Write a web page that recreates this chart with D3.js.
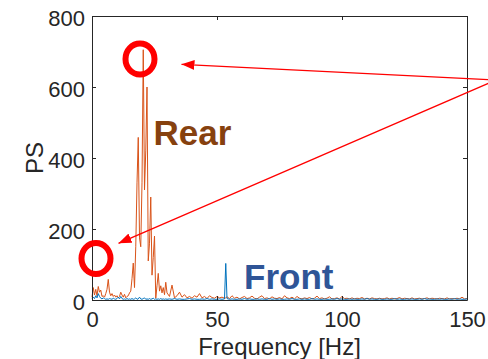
<!DOCTYPE html>
<html>
<head>
<meta charset="utf-8">
<script src="https://cdn.jsdelivr.net/npm/d3@7"></script>
<style>
  html, body { margin: 0; padding: 0; background: #fff; }
  svg { display: block; font-family: 'Liberation Sans', Arial, Helvetica, sans-serif; }
</style>
</head>
<body>
<div id="chart"></div>
<script>
// frequency axis [Hz]
const hz = [
  0, 0.5, 1, 1.5, 2, 2.5, 3, 3.5, 4, 4.5, 5, 5.5, 6, 6.5, 7, 7.5, 8, 8.5, 9, 9.5,
  10, 10.5, 11, 11.5, 12, 12.5, 13, 13.5, 14, 14.5, 15, 15.5, 16, 16.5, 17, 17.5, 18, 18.5, 19, 19.5,
  20, 20.5, 21, 21.5, 22, 22.5, 23, 23.5, 24, 24.5, 25, 25.5, 26, 26.5, 27, 27.5, 28, 28.5, 29, 29.5, 30,
  31, 32, 33, 34, 35, 36, 37, 38, 39, 40, 41, 42, 43, 44, 45, 46, 47, 48, 49, 50, 51, 52, 53, 53.5,
  54, 55, 56, 57, 58, 59, 60, 61, 62, 63, 64, 65, 66, 67, 68, 69, 70, 71, 72, 73,
  74, 75, 76, 77, 78, 79, 80, 81, 82, 83, 84, 85, 86, 87, 88, 89, 90, 91, 92, 93,
  94, 95, 96, 97, 98, 99, 100, 101, 102, 103, 104, 105, 106, 107, 108, 109, 110, 111, 112, 113,
  114, 115, 116, 117, 118, 119, 120, 121, 122, 123, 124, 125, 126, 127, 128, 129, 130, 131, 132, 133,
  134, 135, 136, 137, 138, 139, 140, 141, 142, 143, 144, 145, 146, 147, 148, 149, 150
];

// power spectrum, rear sensor
const rearPS = [
  8, 35, 14, 30, 12, 38, 22, 28, 10, 12, 8, 18, 30, 58, 22, 12, 18, 10, 14, 8,
  12, 6, 10, 22, 14, 8, 16, 6, 10, 12, 20, 25, 60, 104, 35, 150, 330, 458, 175, 150,
  330, 705, 310, 420, 600, 110, 160, 290, 70, 120, 180, 5, 40, 75, 25, 40, 20, 35, 15, 50, 20,
  10, 42, 6, 12, 22, 8, 15, 6, 10, 5, 12, 8, 18, 6, 10, 4, 12, 7, 5, 10, 6, 8, 5, 6,
  9, 4, 12, 5, 8, 3, 7, 10, 4, 6, 11, 5, 3, 8, 12, 4, 6, 3, 9, 5,
  4, 7, 3, 12, 6, 4, 8, 3, 10, 5, 3, 6, 4, 7, 3, 5, 11, 4, 6, 3,
  5, 9, 3, 4, 6, 3, 10, 4, 5, 3, 6, 3, 5, 4, 7, 3, 5, 3, 6, 4,
  3, 5, 3, 4, 6, 3, 5, 3, 4, 7, 3, 5, 4, 3, 6, 3, 4, 5, 3, 4,
  6, 3, 5, 4, 3, 5, 4, 3, 6, 3, 4, 3, 5, 3, 8, 3, 4
];

// power spectrum, front sensor
const frontPS = [
  3, 8, 4, 12, 6, 18, 10, 5, 3, 6, 4, 2, 3, 2, 4, 3, 2, 5, 3, 2,
  4, 8, 3, 10, 4, 2, 3, 2, 4, 2, 3, 2, 4, 2, 3, 6, 2, 3, 8, 3,
  2, 4, 6, 2, 3, 2, 4, 2, 3, 5, 2, 3, 2, 3, 2, 4, 2, 3, 2, 3, 2,
  3, 2, 4, 2, 3, 2, 2, 3, 4, 2, 3, 2, 2, 3, 2, 4, 2, 3, 2, 2, 3, 2, 3, 103,
  4, 2, 3, 2, 2, 3, 2, 4, 2, 3, 2, 2, 3, 2, 3, 2, 2, 4, 2, 3,
  2, 3, 2, 2, 3, 2, 4, 2, 2, 3, 2, 3, 2, 2, 4, 2, 3, 2, 2, 3,
  2, 2, 3, 2, 4, 2, 3, 2, 2, 3, 2, 3, 2, 2, 3, 2, 4, 2, 3, 2,
  2, 3, 2, 2, 3, 2, 2, 4, 2, 3, 2, 2, 3, 2, 3, 2, 2, 3, 2, 4,
  2, 3, 2, 2, 3, 2, 3, 2, 2, 3, 2, 4, 2, 3, 2, 2, 3
];

const xTicks = [0, 50, 100, 150];
const yTicks = [0, 200, 400, 600, 800];

const width = 488;
const height = 359;
const margin = {top: 16, right: 21, bottom: 59, left: 92};
const axisColor = '#262626';

const svg = d3.select('#chart')
    .append('svg')
    .attr('width', width)
    .attr('height', height);

svg.append('rect')
    .attr('width', width)
    .attr('height', height)
    .attr('fill', '#fff');

const xScale = d3.scaleLinear()
    .domain([0, 150])
    .range([margin.left, width - margin.right]);

const yScale = d3.scaleLinear()
    .domain([0, 800])
    .range([height - margin.bottom, margin.top]);

const line = d3.line()
    .x(d => xScale(d[0]))
    .y(d => yScale(d[1]));

// spectra (rear first, front drawn on top)
svg.append('path')
    .datum(hz.map((f, i) => [f, rearPS[i]]))
    .attr('d', line)
    .attr('fill', 'none')
    .attr('stroke', '#D95319')
    .attr('stroke-width', 1)
    .attr('stroke-linejoin', 'round');

svg.append('path')
    .datum(hz.map((f, i) => [f, frontPS[i]]))
    .attr('d', line)
    .attr('fill', 'none')
    .attr('stroke', '#0072BD')
    .attr('stroke-width', 1)
    .attr('stroke-linejoin', 'round');

// axes box, ticks pointing inward
const bottomAxis = svg.append('g')
    .attr('transform', `translate(0,${yScale(0)})`)
    .call(d3.axisBottom(xScale).tickValues(xTicks).tickSizeInner(-4).tickSizeOuter(0).tickPadding(11));

const leftAxis = svg.append('g')
    .attr('transform', `translate(${xScale(0)},0)`)
    .call(d3.axisLeft(yScale).tickValues(yTicks).tickSizeInner(-4).tickSizeOuter(0).tickPadding(7));

svg.append('g')
    .attr('transform', `translate(0,${yScale(800)})`)
    .call(d3.axisTop(xScale).tickValues(xTicks).tickSizeInner(-4).tickSizeOuter(0).tickFormat(''));

svg.append('g')
    .attr('transform', `translate(${xScale(150)},0)`)
    .call(d3.axisRight(yScale).tickValues(yTicks).tickSizeInner(-4).tickSizeOuter(0).tickFormat(''));

svg.selectAll('.domain, .tick line')
    .attr('stroke', axisColor)
    .attr('stroke-width', 1);

svg.selectAll('.tick text')
    .attr('fill', axisColor)
    .attr('font-size', '22px')
    .attr('font-family', "'Liberation Sans', Arial, sans-serif");

leftAxis.selectAll('.tick text').attr('dy', '0.45em');

svg.append('text')
    .attr('x', (xScale(0) + xScale(150)) / 2)
    .attr('y', 355)
    .attr('text-anchor', 'middle')
    .attr('fill', axisColor)
    .attr('font-size', '24px')
    .text('Frequency [Hz]');

svg.append('text')
    .attr('transform', `translate(43,${(yScale(0) + yScale(800)) / 2}) rotate(-90)`)
    .attr('text-anchor', 'middle')
    .attr('fill', axisColor)
    .attr('font-size', '24px')
    .text('PS');

// annotations
svg.append('text')
    .attr('x', 153.5)
    .attr('y', 144.5)
    .attr('fill', '#86410F')
    .attr('font-size', '35px')
    .attr('font-weight', 'bold')
    .text('Rear');

svg.append('text')
    .attr('x', 244)
    .attr('y', 288.5)
    .attr('fill', '#2F5597')
    .attr('font-size', '35px')
    .attr('font-weight', 'bold')
    .text('Front');

svg.append('defs').append('marker')
    .attr('id', 'head')
    .attr('markerUnits', 'userSpaceOnUse')
    .attr('viewBox', '0 -5 13 10')
    .attr('refX', 13)
    .attr('refY', 0)
    .attr('markerWidth', 13)
    .attr('markerHeight', 10)
    .attr('orient', 'auto')
    .append('path')
    .attr('d', 'M0,-5L13,0L0,5Z')
    .attr('fill', '#FF0000');

const arrowStart = [496, 80];
const arrowTips = [[181.5, 64.3], [118.5, 243.3]];

svg.selectAll('.arrow')
    .data(arrowTips)
    .enter().append('line')
    .attr('class', 'arrow')
    .attr('x1', arrowStart[0])
    .attr('y1', arrowStart[1])
    .attr('x2', d => d[0])
    .attr('y2', d => d[1])
    .attr('stroke', '#FF0000')
    .attr('stroke-width', 1.3)
    .attr('marker-end', 'url(#head)');

const rings = [[140, 59], [96, 258.5]];

svg.selectAll('.ring')
    .data(rings)
    .enter().append('ellipse')
    .attr('class', 'ring')
    .attr('cx', d => d[0])
    .attr('cy', d => d[1])
    .attr('rx', 14.5)
    .attr('ry', 15.5)
    .attr('fill', 'none')
    .attr('stroke', '#FF0000')
    .attr('stroke-width', 6);
</script>
</body>
</html>
